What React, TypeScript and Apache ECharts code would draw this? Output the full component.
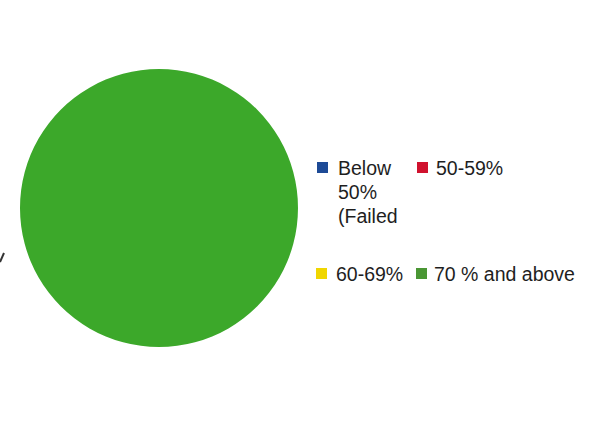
import React, { useEffect, useRef } from "react";
import * as echarts from "echarts";

const categories = ["Below 50% (Failed", "50-59%", "60-69%", "70 % and above"];
const values = [0, 0, 0, 100];
const sliceColors = ["#1d4f9e", "#d4142c", "#f2da00", "#3ca82a"];
const legendIconColors = ["#1d4a96", "#d0122e", "#f0d600", "#4a9634"];
const legendLabels = ["\n\nBelow\n50%\n(Failed", "50-59%", "60-69%", "70 % and above"];

export default function App() {
  const ref = useRef<HTMLDivElement>(null);
  useEffect(() => {
    if (!ref.current) return;
    const chart = echarts.init(ref.current, undefined, { renderer: "svg" });
    const font = "Liberation Sans, Arial, sans-serif";
    const fs = 19.5;
    const legendPos = [
      { left: 317, top: 107.5, pad: [0, 0, 0, 5], lh: 24 },
      { left: 417, top: 156.5, pad: [0, 0, 0, 3], lh: 22 },
      { left: 316, top: 262.5, pad: [0, 0, 0, 4], lh: 22 },
      { left: 416, top: 262.5, pad: [0, 0, 0, 2], lh: 22 },
    ];
    const legends = categories.map((name, i) => ({
      show: true,
      orient: "horizontal",
      left: legendPos[i].left,
      top: legendPos[i].top,
      padding: 0,
      itemWidth: 11,
      itemHeight: 11,
      icon: "rect",
      selectedMode: false,
      data: [{ name, itemStyle: { color: legendIconColors[i] } }],
      formatter: () => legendLabels[i],
      textStyle: {
        fontFamily: font,
        fontSize: fs,
        lineHeight: legendPos[i].lh,
        color: "#1e1e1e",
        padding: legendPos[i].pad,
      },
    }));
    chart.setOption({
      animation: false,
      backgroundColor: "#ffffff",
      legend: legends,
      graphic: [
        {
          type: "line",
          shape: { x1: 0, y1: 262, x2: 4, y2: 253 },
          style: { stroke: "#333", lineWidth: 2 },
        },
      ],
      series: [
        {
          type: "pie",
          center: [159, 208],
          radius: 139,
          startAngle: 90,
          label: { show: false },
          labelLine: { show: false },
          itemStyle: { borderWidth: 0 },
          emphasis: { disabled: true },
          data: categories.map((name, i) => ({
            name,
            value: values[i],
            itemStyle: { color: sliceColors[i] },
          })),
        },
      ],
    });
    return () => chart.dispose();
  }, []);
  return (
    <div
      ref={ref}
      style={{ position: "absolute", left: 0, top: 0, width: 596, height: 435 }}
    />
  );
}
